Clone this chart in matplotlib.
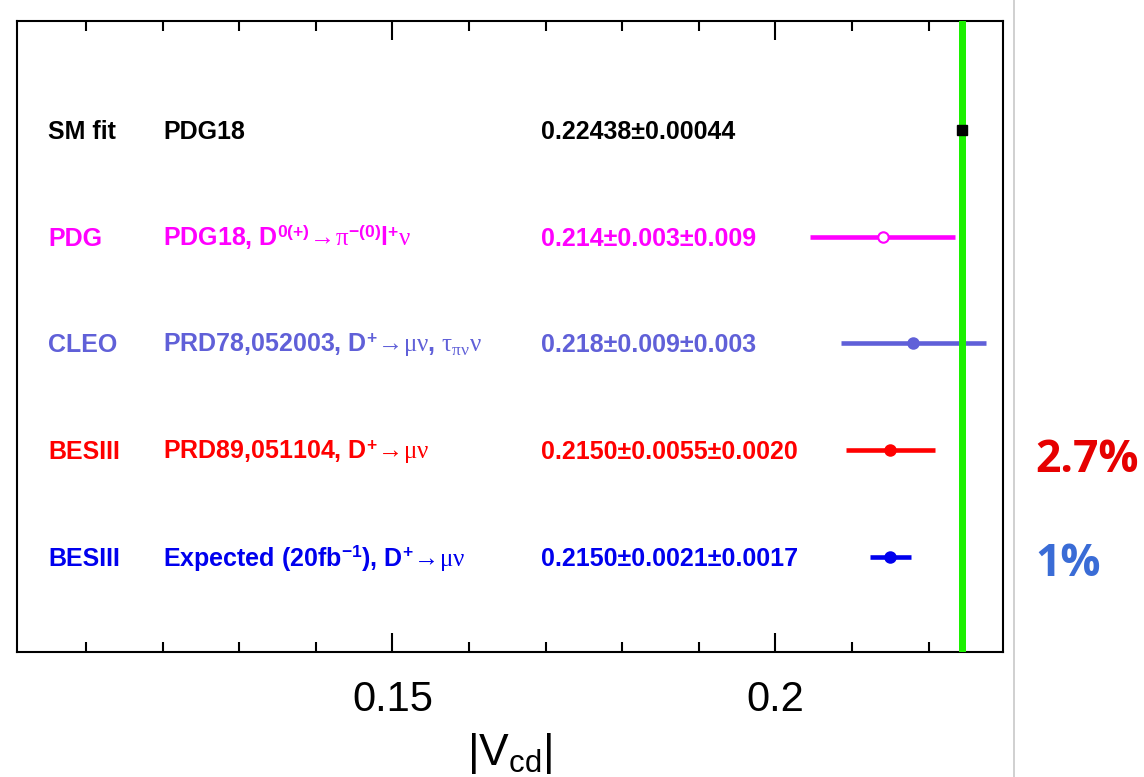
import numpy as np
import matplotlib
matplotlib.use("Agg")
import matplotlib.pyplot as plt
import matplotlib.transforms as mtransforms
from matplotlib.lines import Line2D
from matplotlib.ticker import MultipleLocator

plt.rcParams['mathtext.fontset'] = 'custom'
plt.rcParams['mathtext.rm'] = 'Liberation Serif'
plt.rcParams['mathtext.it'] = 'Liberation Serif:italic'
plt.rcParams['mathtext.bf'] = 'Liberation Sans:bold'
plt.rcParams['mathtext.sf'] = 'Liberation Sans'

# measurements of |Vcd|
experiments = ["SM fit", "PDG", "CLEO", "BESIII", "BESIII"]
references = [
    "PDG18",
    r"PDG18, D$^{\mathbf{0(+)}}\!\mathrm{\rightarrow}\!\mathrm{\pi}^{\mathbf{-(0)}}$l$^{\mathbf{+}}\mathrm{\nu}$",
    r"PRD78,052003, D$^{\mathbf{+}}\!\mathrm{\rightarrow}\!\mathrm{\mu\nu}$, $\mathrm{\tau_{\pi\nu}\nu}$",
    r"PRD89,051104, D$^{\mathbf{+}}\!\mathrm{\rightarrow}\!\mathrm{\mu\nu}$",
    r"Expected (20fb$^{\mathbf{-1}}$), D$^{\mathbf{+}}\!\mathrm{\rightarrow}\!\mathrm{\mu\nu}$",
]
values = [0.22438, 0.214, 0.218, 0.2150, 0.2150]
stat = [0.00044, 0.003, 0.009, 0.0055, 0.0021]
syst = [0.0, 0.009, 0.003, 0.0020, 0.0017]
value_texts = [
    "0.22438±0.00044",
    "0.214±0.003±0.009",
    "0.218±0.009±0.003",
    "0.2150±0.0055±0.0020",
    "0.2150±0.0021±0.0017",
]
colors = ["black", "#ff00ff", "#6060d8", "#ff0000", "#0000ee"]
rows = [4, 3, 2, 1, 0]
precision = ["2.7%", "1%"]
precision_colors = ["#e60000", "#3a6cd6"]

fig = plt.figure(figsize=(11.44, 7.77), dpi=100)
ax = fig.add_axes([17/1144, 1 - 652/777, 986/1144, 631/777])

ax.set_xlim(0.101, 0.2297)
ax.set_ylim(-0.89, 5.02)

# SM fit band
ax.axvspan(values[0] - stat[0], values[0] + stat[0], color="#1cf000", lw=0, zorder=3)

for i in range(1, 5):
    err = np.sqrt(stat[i]**2 + syst[i]**2)
    face = "white" if experiments[i] == "PDG" else colors[i]
    ax.errorbar(values[i], rows[i], xerr=err, fmt="o", color=colors[i], ecolor=colors[i],
                elinewidth=3.3, capsize=0, markersize=7.5, mfc=face, mec=colors[i],
                mew=1.5, zorder=2)
ax.plot(values[0], rows[0], "s", color="black", markersize=7, zorder=5)

trans = mtransforms.blended_transform_factory(ax.transAxes, ax.transData)
trans = trans + mtransforms.ScaledTranslation(0, -9/100, fig.dpi_scale_trans)
for i in range(5):
    kw = dict(transform=trans, color=colors[i], fontsize=18, fontweight="bold",
              fontfamily="Liberation Sans", va="baseline", ha="left")
    ax.text(0.0314, rows[i], experiments[i], **kw)
    ax.text(0.148, rows[i], references[i], **kw)
    ax.text(0.531, rows[i], value_texts[i], **kw)

ax.xaxis.set_minor_locator(MultipleLocator(0.01))
ax.set_xticks([0.15, 0.2])
ax.set_xticklabels(["0.15", "0.2"])
ax.set_yticks([])
ax.tick_params(axis="x", which="both", direction="in", top=True, width=1.5)
ax.tick_params(axis="x", which="major", length=14, pad=20, labelsize=30)
ax.tick_params(axis="x", which="minor", length=7.5)
for lab in ax.get_xticklabels():
    lab.set_fontfamily("Liberation Sans")
for s in ax.spines.values():
    s.set_linewidth(1.5)
ax.set_xlabel(r"$\mathsf{|V_{cd}|}$", fontsize=32, labelpad=8)

fig.add_artist(Line2D([1013.5/1144, 1013.5/1144], [0, 1], color="#c8c8c8", lw=1.2))
fig.text(1035/1144, 1 - 461/777, precision[0], color=precision_colors[0], fontsize=32,
         fontweight="bold", fontfamily="Open Sans", va="center", ha="left")
fig.text(1035/1144, 1 - 564/777, precision[1], color=precision_colors[1], fontsize=32,
         fontweight="bold", fontfamily="Open Sans", va="center", ha="left")

fig.savefig("out.png", dpi=100)
